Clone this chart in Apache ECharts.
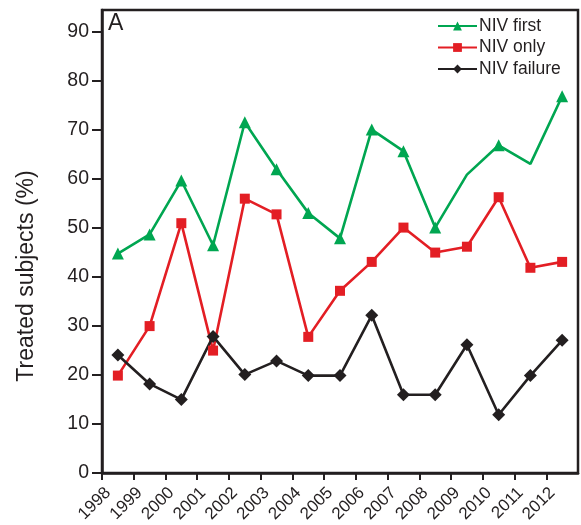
<!DOCTYPE html>
<html>
<head>
<meta charset="utf-8">
<script src="https://cdn.jsdelivr.net/npm/echarts@6/dist/echarts.min.js"></script>
<style>
html,body{margin:0;padding:0;background:#fff;}
#c{width:581px;height:525px;}
</style>
</head>
<body>
<div id="c"></div>
<script>
var years = [1998,1999,2000,2001,2002,2003,2004,2005,2006,2007,2008,2009,2010,2011,2012];
var nivFirst   = [44.8,48.7,59.7,46.5,71.6,62.0,53.1,47.9,70.1,65.7,50.1,60.9,66.9,63.1,76.9];
var nivFirstNoMarker = [2009, 2011];
var nivOnly    = [19.9,30.0,51.0,25.0,56.0,52.8,27.8,37.2,43.1,50.1,45.0,46.2,56.3,41.9,43.1];
var nivFailure = [24.1,18.2,15.0,27.9,20.1,22.9,19.9,19.9,32.2,16.0,16.0,26.2,11.9,19.9,27.1];
var yTicks = [0,10,20,30,40,50,60,70,80,90];

var FONT = '"Liberation Sans", Arial, sans-serif';
var INK = '#231f20';

function pts(vals, noMarker) {
  return years.map(function (y, i) {
    var item = { value: [y + 0.5, vals[i]] };
    if (noMarker && noMarker.indexOf(y) >= 0) item.symbol = 'none';
    return item;
  });
}

var chart = echarts.init(document.getElementById('c'), null, { renderer: 'canvas' });
chart.setOption({
  animation: false,
  backgroundColor: '#fff',
  grid: { left: 102, right: 3, top: 10, bottom: 51, show: true, borderColor: INK, borderWidth: 2.5, containLabel: false },
  xAxis: {
    type: 'value', min: 1998, max: 2013, interval: 1,
    axisLine: { show: true, onZero: false, lineStyle: { color: INK, width: 2.5 } },
    axisTick: { show: true, inside: false, length: 7, lineStyle: { color: INK, width: 2 } },
    splitLine: { show: false },
    axisLabel: {
      rotate: 45, margin: 11, color: INK, fontSize: 17, fontFamily: FONT,
      verticalAlign: 'top',
      showMaxLabel: false,
      formatter: function (v) { return years.indexOf(v) >= 0 ? String(v) : ''; }
    }
  },
  yAxis: {
    type: 'value', min: 0, max: 94.5, interval: 10,
    axisLine: { show: true, lineStyle: { color: INK, width: 2.5 } },
    axisTick: { show: true, inside: false, length: 10, lineStyle: { color: INK, width: 2 } },
    splitLine: { show: false },
    axisLabel: {
      margin: 13, color: INK, fontSize: 19.5, fontFamily: FONT,
      showMaxLabel: false,
      formatter: function (v) { return yTicks.indexOf(v) >= 0 ? String(v) : ''; }
    }
  },
  legend: {
    orient: 'vertical', left: 432, top: 12, itemWidth: 39, itemHeight: 11, itemGap: 3.5,
    textStyle: { color: INK, fontSize: 17.5, fontFamily: FONT, padding: [0,0,0,-3] },
    data: ['NIV first', 'NIV only', 'NIV failure']
  },
  graphic: [
    { type: 'text', left: 108, top: 12, style: { text: 'A', fontSize: 23, fontFamily: FONT, fill: INK } },
    { type: 'text', x: 27, y: 276, rotation: Math.PI / 2,
      style: { text: 'Treated subjects (%)', fontSize: 23, fontFamily: FONT, fill: INK, align: 'center', verticalAlign: 'middle' } }
  ],
  series: [
    { name: 'NIV first', type: 'line', data: pts(nivFirst, nivFirstNoMarker),
      symbol: 'triangle', symbolSize: 12, showAllSymbol: true,
      lineStyle: { color: '#00a651', width: 2.6 }, itemStyle: { color: '#00a651' } },
    { name: 'NIV only', type: 'line', data: pts(nivOnly),
      symbol: 'rect', symbolSize: 10, showAllSymbol: true,
      lineStyle: { color: '#e31e24', width: 2.6 }, itemStyle: { color: '#e31e24' } },
    { name: 'NIV failure', type: 'line', data: pts(nivFailure),
      symbol: 'diamond', symbolSize: 13, showAllSymbol: true,
      lineStyle: { color: INK, width: 2.6 }, itemStyle: { color: INK } }
  ]
});
</script>
</body>
</html>
